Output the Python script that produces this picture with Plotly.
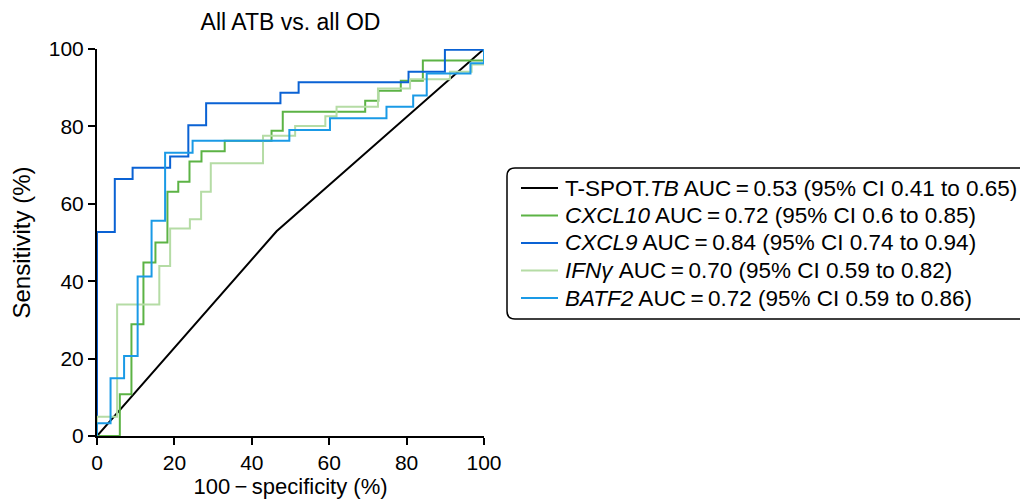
import plotly.graph_objects as go

# ---- data ----
tspot_x = [0, 46.4, 100]
tspot_y = [0, 52.9, 100]

cxcl10_x = [0, 5.9, 8.9, 12.0, 15.1, 18.2, 21.0, 23.9, 27.0, 33.0, 45.1, 48.0, 69.3, 72.7, 78.5, 84.2, 100, 100]
cxcl10_y = [0, 10.8, 28.9, 44.8, 50.0, 63.1, 65.7, 70.9, 73.6, 76.3, 78.9, 83.8, 86.6, 89.2, 91.8, 97.0, 97.0, 100]

cxcl9_x = [0, 0, 4.6, 9.2, 18.9, 23.6, 28.2, 47.4, 52.1, 80.5, 89.9, 100]
cxcl9_y = [0, 52.7, 66.4, 69.3, 72.2, 80.3, 86.0, 88.7, 91.4, 94.1, 99.8, 100]

ifng_x = [0, 0, 5.2, 16.1, 18.9, 24.0, 26.9, 29.4, 42.9, 51.2, 59.0, 61.9, 72.6, 80.9, 91.2, 96.8, 100, 100]
ifng_y = [0, 5.0, 34.0, 43.9, 53.6, 56.0, 63.1, 70.5, 77.6, 80.1, 82.6, 85.1, 89.8, 92.2, 94.1, 96.0, 96.0, 100]

batf2_x = [0, 0, 3.5, 7.0, 10.5, 14.1, 17.6, 24.7, 49.7, 60.2, 74.8, 81.7, 85.2, 96.5, 100, 100]
batf2_y = [0, 3.3, 14.9, 20.7, 41.2, 55.6, 73.2, 76.3, 79.1, 82.1, 85.1, 88.0, 93.7, 96.3, 96.3, 100]

names = [
    "T-SPOT.<i>TB</i> AUC\u2009=\u20090.53 (95% CI 0.41 to 0.65)",
    "<i>CXCL10</i> AUC\u2009=\u20090.72 (95% CI 0.6 to 0.85)",
    "<i>CXCL9</i> AUC\u2009=\u20090.84 (95% CI 0.74 to 0.94)",
    "<i>IFN\u03b3</i> AUC\u2009=\u20090.70 (95% CI 0.59 to 0.82)",
    "<i>BATF2</i> AUC\u2009=\u20090.72 (95% CI 0.59 to 0.86)",
]
colors = ["#000000", "#5cb345", "#0a62d4", "#b5dca5", "#1a9ae6"]

tick_vals = [0, 20, 40, 60, 80, 100]
tick_text = ["0", "20", "40", "60", "80", "100"]

FONT = "Liberation Sans"

# plot-area geometry in pixels (used only for legend placement)
L, T, W, H = 97, 49, 387, 387


def px_x(p):
    return (p - L) / W


def px_y(p):
    return (T + H - p) / H


fig = go.Figure()
series = [
    (tspot_x, tspot_y, "linear"),
    (cxcl10_x, cxcl10_y, "hv"),
    (cxcl9_x, cxcl9_y, "hv"),
    (ifng_x, ifng_y, "hv"),
    (batf2_x, batf2_y, "hv"),
]
for (xs, ys, shape), nm, col in zip(series, names, colors):
    fig.add_trace(go.Scatter(
        x=xs, y=ys, mode="lines", name=nm,
        line=dict(color=col, width=2, shape=shape),
        hoverinfo="skip", showlegend=False,
    ))

axis_common = dict(
    range=[0, 100], tickvals=tick_vals, ticktext=tick_text,
    showgrid=False, zeroline=False, showline=True, linecolor="black", linewidth=2,
    ticks="outside", ticklen=7, tickwidth=2, tickcolor="black",
    tickfont=dict(family=FONT, size=21, color="black"),
    layer="below traces", fixedrange=True, automargin=False,
)

fig.update_layout(
    width=1020, height=499, autosize=False,
    margin=dict(l=L, r=1020 - L - W, t=T, b=499 - T - H, pad=0),
    paper_bgcolor="white", plot_bgcolor="white",
    font=dict(family=FONT, size=21, color="black"),
    title=dict(text="All ATB vs. all OD", x=0.5, xref="paper", xanchor="center",
               y=1 - 22 / 499, yref="container", yanchor="middle",
               font=dict(family=FONT, size=23, color="black")),
    xaxis=dict(**axis_common, title=dict(text="100\u2009\u2212\u2009specificity (%)", standoff=8,
                                          font=dict(family=FONT, size=22))),
    yaxis=dict(**axis_common, title=dict(text="Sensitivity (%)", standoff=11,
                                          font=dict(family=FONT, size=24))),
    showlegend=False,
)

# ---- legend (frame, keys, labels) ----
row_px = [188, 215.5, 243, 270.5, 298]
key_x0, key_x1, text_x = 521, 558, 564

fig.add_shape(
    type="path", xref="paper", yref="paper", xsizemode="pixel", ysizemode="pixel",
    xanchor=0, yanchor=0,
    path="M 418,117 L 927,117 Q 935,117 935,125 L 935,260 Q 935,268 927,268 "
         "L 418,268 Q 410,268 410,260 L 410,125 Q 410,117 418,117 Z",
    line=dict(color="black", width=1.5), fillcolor="rgba(0,0,0,0)",
)
for nm, col, ry in zip(names, colors, row_px):
    fig.add_shape(type="line", xref="paper", yref="paper",
                  x0=px_x(key_x0), x1=px_x(key_x1), y0=px_y(ry), y1=px_y(ry),
                  line=dict(color=col, width=2))
    fig.add_annotation(text=nm, xref="paper", yref="paper", x=px_x(text_x), y=px_y(ry),
                       xanchor="left", yanchor="middle", showarrow=False,
                       font=dict(family=FONT, size=22.5, color="black"), borderpad=0)

fig.write_html("out.html")
